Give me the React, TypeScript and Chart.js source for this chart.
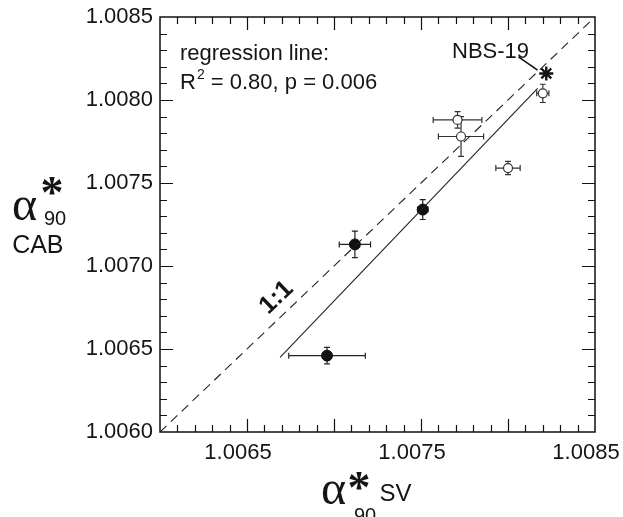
import React, { useEffect, useRef } from "react";
import { Chart, registerables } from "chart.js";

Chart.register(...registerables);

// ---- axes ----
const X_MIN = 1.006;
const X_MAX = 1.0085;
const Y_MIN = 1.006;
const Y_MAX = 1.0085;
const MINOR_STEP = 0.0001;
const MAJOR_EVERY = 5;
const xTickValues = [1.0065, 1.0075, 1.0085];
const xTickLabels = ["1.0065", "1.0075", "1.0085"];
const yTickValues = [1.006, 1.0065, 1.007, 1.0075, 1.008, 1.0085];
const yTickLabels = ["1.0060", "1.0065", "1.0070", "1.0075", "1.0080", "1.0085"];

// ---- data: filled circles ----
const filledX = [1.00696, 1.00712, 1.00751];
const filledY = [1.00646, 1.00713, 1.00734];
const filledXErr = [0.00022, 0.00009, 0.00003];
const filledYErr = [0.00005, 0.00008, 0.00006];

// ---- data: open circles ----
const openX = [1.00771, 1.00773, 1.008, 1.0082];
const openY = [1.00788, 1.00778, 1.00759, 1.00804];
const openXErr = [0.00014, 0.00013, 0.00007, 0.000035];
const openYErr = [0.00005, 0.00012, 0.00004, 0.000055];

// ---- NBS-19 reference ----
const nbsX = [1.00822];
const nbsY = [1.00816];

// ---- lines ----
const regressionX = [1.00669, 1.00817];
const regressionY = [1.00645, 1.00807];
const oneToOneX = [1.006, 1.0085];
const oneToOneY = [1.006, 1.0085];

// ---- annotations (data units) ----
const nbsArrowFrom = { x: 1.00806, y: 1.00826 };
const nbsArrowTo = { x: 1.00817, y: 1.00818 };
const oneToOneLabelPos = { x: 1.00667, y: 1.00681 };

const FONT_SANS = '"Liberation Sans", Arial, Helvetica, sans-serif';
const FONT_SERIF = '"Liberation Serif", "Times New Roman", serif';
const TEXT_COLOR = "#151515";

function toPts(xs: number[], ys: number[]) {
  return xs.map((x, i) => ({ x, y: ys[i] }));
}

function drawCentered(ctx: CanvasRenderingContext2D, text: string, cx: number, cy: number) {
  const m = ctx.measureText(text);
  const w = m.actualBoundingBoxRight + m.actualBoundingBoxLeft;
  const h = m.actualBoundingBoxAscent + m.actualBoundingBoxDescent;
  ctx.textAlign = "left";
  ctx.textBaseline = "alphabetic";
  ctx.fillText(text, cx - w / 2 + m.actualBoundingBoxLeft, cy + h / 2 - m.actualBoundingBoxDescent);
}

const errorBarPlugin = {
  id: "errorBars",
  beforeDatasetsDraw(chart: any) {
    const { ctx } = chart;
    const x = chart.scales.x;
    const y = chart.scales.y;
    chart.data.datasets.forEach((ds: any) => {
      if (!ds.errX) return;
      ctx.save();
      ctx.strokeStyle = ds.errColor || "#222";
      ctx.lineWidth = 1.2;
      const c = 3;
      ds.data.forEach((p: any, i: number) => {
        const px = x.getPixelForValue(p.x);
        const py = y.getPixelForValue(p.y);
        const xl = x.getPixelForValue(p.x - ds.errX[i]);
        const xr = x.getPixelForValue(p.x + ds.errX[i]);
        const yt = y.getPixelForValue(p.y + ds.errY[i]);
        const yb = y.getPixelForValue(p.y - ds.errY[i]);
        ctx.beginPath();
        ctx.moveTo(xl, py);
        ctx.lineTo(xr, py);
        ctx.moveTo(xl, py - c);
        ctx.lineTo(xl, py + c);
        ctx.moveTo(xr, py - c);
        ctx.lineTo(xr, py + c);
        ctx.moveTo(px, yt);
        ctx.lineTo(px, yb);
        ctx.moveTo(px - c, yt);
        ctx.lineTo(px + c, yt);
        ctx.moveTo(px - c, yb);
        ctx.lineTo(px + c, yb);
        ctx.stroke();
      });
      ctx.restore();
    });
  },
};

const frameAndTextPlugin = {
  id: "frameAndText",
  afterDraw(chart: any) {
    const { ctx, chartArea } = chart;
    const x = chart.scales.x;
    const y = chart.scales.y;
    const { left, right, top, bottom } = chartArea;
    ctx.save();

    // frame
    ctx.strokeStyle = "#111";
    ctx.lineWidth = 1.5;
    ctx.strokeRect(left, top, right - left, bottom - top);

    // inward ticks on all four sides
    ctx.lineWidth = 1.2;
    const nX = Math.round((X_MAX - X_MIN) / MINOR_STEP);
    for (let i = 1; i < nX; i++) {
      const v = X_MIN + i * MINOR_STEP;
      const px = Math.round(x.getPixelForValue(v)) + 0.5;
      const len = i % MAJOR_EVERY === 0 ? 13 : 7;
      ctx.beginPath();
      ctx.moveTo(px, bottom);
      ctx.lineTo(px, bottom - len);
      ctx.moveTo(px, top);
      ctx.lineTo(px, top + len);
      ctx.stroke();
    }
    const nY = Math.round((Y_MAX - Y_MIN) / MINOR_STEP);
    for (let i = 1; i < nY; i++) {
      const v = Y_MIN + i * MINOR_STEP;
      const py = Math.round(y.getPixelForValue(v)) + 0.5;
      const len = i % MAJOR_EVERY === 0 ? 13 : 7;
      ctx.beginPath();
      ctx.moveTo(left, py);
      ctx.lineTo(left + len, py);
      ctx.moveTo(right, py);
      ctx.lineTo(right - len, py);
      ctx.stroke();
    }

    ctx.fillStyle = TEXT_COLOR;

    // regression annotation
    ctx.textAlign = "left";
    ctx.textBaseline = "alphabetic";
    ctx.font = `22px ${FONT_SANS}`;
    ctx.fillText("regression line:", 180, 60);
    ctx.fillText("R", 180, 89);
    let cx = 180 + ctx.measureText("R").width;
    ctx.font = `14px ${FONT_SANS}`;
    ctx.fillText("2", cx + 1, 79);
    cx += ctx.measureText("2").width + 1;
    ctx.font = `22px ${FONT_SANS}`;
    ctx.fillText(" = 0.80, p = 0.006", cx, 89);

    // NBS-19 label and arrow
    ctx.fillText("NBS-19", 452, 58);
    const ax1 = x.getPixelForValue(nbsArrowFrom.x);
    const ay1 = y.getPixelForValue(nbsArrowFrom.y);
    const ax2 = x.getPixelForValue(nbsArrowTo.x);
    const ay2 = y.getPixelForValue(nbsArrowTo.y);
    ctx.strokeStyle = "#111";
    ctx.lineWidth = 1.6;
    ctx.beginPath();
    ctx.moveTo(ax1, ay1);
    ctx.lineTo(ax2, ay2);
    ctx.stroke();

    // 1:1 label, rotated along the 1:1 line
    const p0x = x.getPixelForValue(oneToOneX[0]);
    const p0y = y.getPixelForValue(oneToOneY[0]);
    const p1x = x.getPixelForValue(oneToOneX[1]);
    const p1y = y.getPixelForValue(oneToOneY[1]);
    const ang = Math.atan2(p1y - p0y, p1x - p0x);
    ctx.save();
    ctx.translate(x.getPixelForValue(oneToOneLabelPos.x), y.getPixelForValue(oneToOneLabelPos.y));
    ctx.rotate(ang);
    ctx.font = `bold 25px ${FONT_SANS}`;
    ctx.textAlign = "center";
    ctx.textBaseline = "middle";
    ctx.fillText("1:1", 0, 0);
    ctx.restore();

    // y-axis title: alpha*_90 CAB
    ctx.font = `48px ${FONT_SERIF}`;
    drawCentered(ctx, "\u03b1", 25, 208);
    ctx.font = `bold 46px ${FONT_SERIF}`;
    drawCentered(ctx, "*", 52, 186);
    ctx.font = `20px ${FONT_SANS}`;
    drawCentered(ctx, "90", 55, 218);
    ctx.font = `25px ${FONT_SANS}`;
    drawCentered(ctx, "CAB", 38, 244);

    // x-axis title: alpha*_90 SV
    ctx.font = `48px ${FONT_SERIF}`;
    drawCentered(ctx, "\u03b1", 334, 492);
    ctx.font = `bold 46px ${FONT_SERIF}`;
    drawCentered(ctx, "*", 359, 481);
    ctx.font = `20px ${FONT_SANS}`;
    drawCentered(ctx, "90", 365, 515);
    ctx.font = `24px ${FONT_SANS}`;
    drawCentered(ctx, "SV", 396, 492);

    ctx.restore();
  },
};

export default function App() {
  const canvasRef = useRef<HTMLCanvasElement | null>(null);

  useEffect(() => {
    const canvas = canvasRef.current;
    if (!canvas) return;
    const chart = new Chart(canvas, {
      type: "scatter",
      data: {
        datasets: [
          {
            label: "1:1",
            data: toPts(oneToOneX, oneToOneY),
            showLine: true,
            borderColor: "#222",
            borderWidth: 1.1,
            borderDash: [9, 6],
            pointRadius: 0,
            fill: false,
          },
          {
            label: "regression",
            data: toPts(regressionX, regressionY),
            showLine: true,
            borderColor: "#222",
            borderWidth: 1.1,
            pointRadius: 0,
            fill: false,
          },
          {
            label: "filled",
            data: toPts(filledX, filledY),
            pointRadius: 5.5,
            pointBackgroundColor: "#111",
            pointBorderColor: "#111",
            pointBorderWidth: 1,
            errX: filledXErr,
            errY: filledYErr,
            errColor: "#222",
          } as any,
          {
            label: "open",
            data: toPts(openX, openY),
            pointRadius: 4.5,
            pointBackgroundColor: "#fff",
            pointBorderColor: "#333",
            pointBorderWidth: 1.2,
            errX: openXErr,
            errY: openYErr,
            errColor: "#333",
          } as any,
          {
            label: "NBS-19",
            data: toPts(nbsX, nbsY),
            pointStyle: "star",
            pointRadius: 7,
            pointBorderColor: "#111",
            pointBorderWidth: 2.4,
          },
        ],
      },
      options: {
        animation: false,
        responsive: true,
        maintainAspectRatio: false,
        layout: { padding: { top: 17, right: 28, left: 0, bottom: 0 } },
        plugins: {
          legend: { display: false },
          tooltip: { enabled: false },
        },
        scales: {
          x: {
            type: "linear",
            min: X_MIN,
            max: X_MAX,
            grid: { display: false, drawTicks: false },
            border: { display: false },
            afterBuildTicks: (s: any) => {
              s.ticks = xTickValues.map((v) => ({ value: v }));
            },
            afterFit: (s: any) => {
              s.height = 85;
              s.paddingLeft = 0;
              s.paddingRight = 0;
            },
            ticks: {
              autoSkip: false,
              maxRotation: 0,
              padding: 8,
              labelOffset: -9,
              color: TEXT_COLOR,
              font: { family: FONT_SANS, size: 22 },
              callback: (_v: any, i: number) => xTickLabels[i],
            },
          },
          y: {
            type: "linear",
            min: Y_MIN,
            max: Y_MAX,
            grid: { display: false, drawTicks: false },
            border: { display: false },
            afterBuildTicks: (s: any) => {
              s.ticks = yTickValues.map((v) => ({ value: v }));
            },
            afterFit: (s: any) => {
              s.width = 160;
              s.paddingTop = 0;
              s.paddingBottom = 0;
            },
            ticks: {
              autoSkip: false,
              padding: 7,
              color: TEXT_COLOR,
              font: { family: FONT_SANS, size: 22 },
              callback: (_v: any, i: number) => yTickLabels[i],
            },
          },
        },
      },
      plugins: [errorBarPlugin, frameAndTextPlugin],
    } as any);
    return () => chart.destroy();
  }, []);

  return (
    <div style={{ position: "absolute", left: 0, top: 0, width: 623, height: 517, background: "#fff" }}>
      <canvas ref={canvasRef} />
    </div>
  );
}
